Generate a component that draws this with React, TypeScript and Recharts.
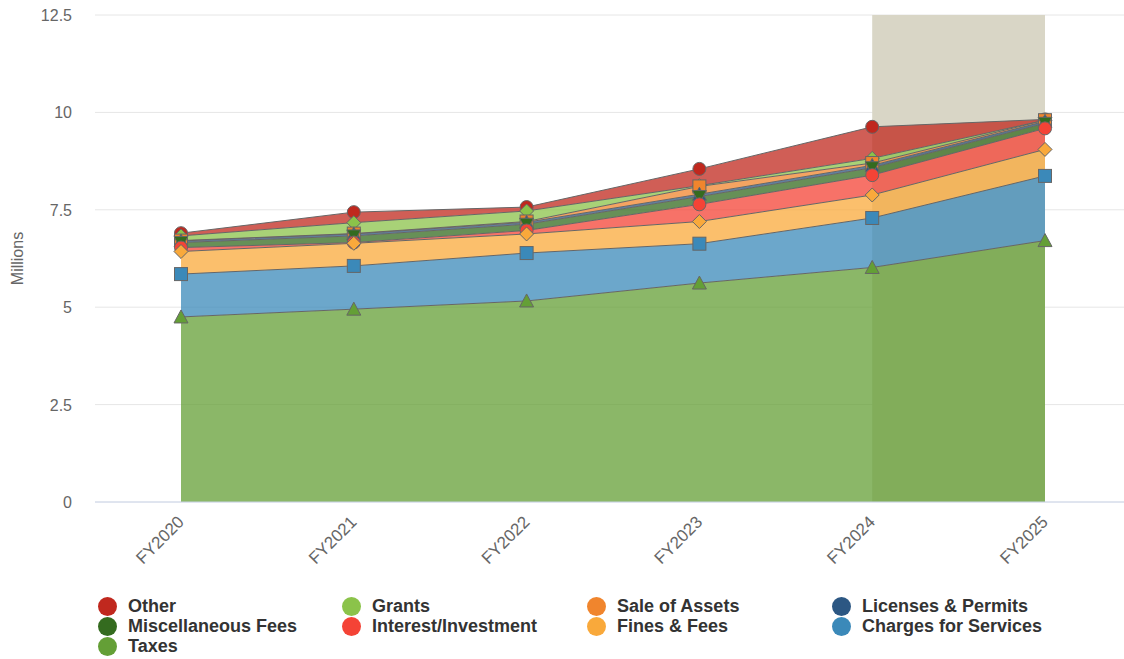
import React from "react";
import { AreaChart, Area, XAxis, YAxis, CartesianGrid, ReferenceArea } from "recharts";

const categories = ["FY2020", "FY2021", "FY2022", "FY2023", "FY2024", "FY2025"];
const yTicks = [0, 2.5, 5, 7.5, 10, 12.5];

const other = [0.07, 0.27, 0.1, 0.43, 0.81, 0.02];
const grants = [0.12, 0.28, 0.27, 0.02, 0.12, 0.0];
const saleOfAssets = [0.01, 0.01, 0.02, 0.2, 0.06, 0.03];
const licensesPermits = [0.04, 0.05, 0.05, 0.06, 0.06, 0.05];
const miscFees = [0.13, 0.17, 0.16, 0.2, 0.19, 0.13];
const interestInvestment = [0.1, 0.02, 0.09, 0.44, 0.51, 0.54];
const finesFees = [0.58, 0.58, 0.49, 0.57, 0.59, 0.68];
const chargesServices = [1.1, 1.11, 1.23, 1.01, 1.27, 1.66];
const taxes = [4.75, 4.95, 5.16, 5.62, 6.02, 6.71];

// legend / stack order (top of stack first)
const series = [
  { key: "other", name: "Other", values: other, color: "#c0281e", symbol: "circle" },
  { key: "grants", name: "Grants", values: grants, color: "#8bc34a", symbol: "diamond" },
  { key: "sale", name: "Sale of Assets", values: saleOfAssets, color: "#f0852d", symbol: "square" },
  { key: "licenses", name: "Licenses & Permits", values: licensesPermits, color: "#2c5783", symbol: "triangle" },
  { key: "misc", name: "Miscellaneous Fees", values: miscFees, color: "#346b1f", symbol: "triangle-down" },
  { key: "interest", name: "Interest/Investment", values: interestInvestment, color: "#f44336", symbol: "circle" },
  { key: "fines", name: "Fines & Fees", values: finesFees, color: "#f9a93b", symbol: "diamond" },
  { key: "charges", name: "Charges for Services", values: chargesServices, color: "#3b89b9", symbol: "square" },
  { key: "taxes", name: "Taxes", values: taxes, color: "#649f36", symbol: "triangle" },
];

const data = categories.map((c, i) => {
  const row: any = { name: c };
  series.forEach((s) => {
    row[s.key] = s.values[i];
  });
  return row;
});

const FONT = '"Liberation Sans", Arial, Helvetica, sans-serif';

function makeDot(symbol: string, color: string) {
  return (props: any) => {
    const { cx, cy, index } = props;
    const k = `dot-${symbol}-${color}-${index}`;
    if (cx == null || cy == null || isNaN(cx) || isNaN(cy)) return <g key={k} />;
    const common = { fill: color, stroke: "#666666", strokeWidth: 1 };
    if (symbol === "circle") return <circle key={k} cx={cx} cy={cy} r={6.5} {...common} />;
    if (symbol === "square") return <rect key={k} x={cx - 6.5} y={cy - 6.5} width={13} height={13} {...common} />;
    if (symbol === "diamond")
      return <polygon key={k} points={`${cx},${cy - 7} ${cx + 7},${cy} ${cx},${cy + 7} ${cx - 7},${cy}`} {...common} />;
    if (symbol === "triangle")
      return <polygon key={k} points={`${cx},${cy - 7} ${cx + 7},${cy + 6} ${cx - 7},${cy + 6}`} {...common} />;
    return <polygon key={k} points={`${cx - 7},${cy - 6} ${cx + 7},${cy - 6} ${cx},${cy + 7}`} {...common} />;
  };
}

const XTick = (props: any) => {
  const { x, y, payload } = props;
  return (
    <text
      x={x + 4}
      y={y + 13}
      transform={`rotate(-45, ${x + 4}, ${y + 13})`}
      textAnchor="end"
      fill="#666666"
      fontSize={17}
      fontFamily={FONT}
    >
      {payload.value}
    </text>
  );
};

const YTick = (props: any) => {
  const { y, payload } = props;
  return (
    <text x={72} y={y + 6} textAnchor="end" fill="#666666" fontSize={16} fontFamily={FONT}>
      {String(payload.value)}
    </text>
  );
};

const legendCols = [98, 342, 587, 832];

export default function App() {
  return (
    <div style={{ position: "absolute", left: 0, top: 0, width: 1124, height: 659, background: "#fff" }}>
      <AreaChart
        width={1124}
        height={659}
        data={data}
        margin={{ top: 15, right: 0, left: 0, bottom: 0 }}
        reverseStackOrder
      >
        <CartesianGrid vertical={false} stroke="#e6e6e6" strokeWidth={1} />
        <ReferenceArea x1="FY2024" x2="FY2025" y1={0} y2={12.5} fill="#d9d6c6" fillOpacity={1} stroke="none" zIndex={-50} />
        <XAxis
          dataKey="name"
          interval={0}
          padding={{ left: 86, right: 79 }}
          height={157}
          axisLine={{ stroke: "#ccd6eb" }}
          tickLine={false}
          tick={<XTick />}
        />
        <YAxis
          width={95}
          domain={[0, 12.5]}
          ticks={yTicks}
          axisLine={false}
          tickLine={false}
          tick={<YTick />}
          label={{
            value: "Millions",
            angle: -90,
            position: "insideLeft",
            dx: 12,
            style: { fill: "#666666", fontSize: 16, fontFamily: FONT, textAnchor: "middle" },
          }}
        />
        {series.map((s) => (
          <Area
            key={s.key}
            type="linear"
            dataKey={s.key}
            name={s.name}
            stackId="1"
            stroke="#666666"
            strokeWidth={1}
            fill={s.color}
            fillOpacity={0.75}
            dot={makeDot(s.symbol, s.color)}
            activeDot={false}
            isAnimationActive={false}
          />
        ))}
      </AreaChart>
      {series.map((s, i) => {
        const col = i % 4;
        const row = Math.floor(i / 4);
        return (
          <div
            key={s.key}
            style={{
              position: "absolute",
              left: legendCols[col],
              top: 596 + row * 20,
              height: 20,
              display: "flex",
              alignItems: "center",
              fontFamily: FONT,
              fontWeight: "bold",
              fontSize: 18,
              color: "#333333",
              whiteSpace: "nowrap",
            }}
          >
            <span
              style={{
                display: "inline-block",
                width: 19,
                height: 19,
                borderRadius: "50%",
                background: s.color,
                marginRight: 11,
              }}
            />
            {s.name}
          </div>
        );
      })}
    </div>
  );
}
